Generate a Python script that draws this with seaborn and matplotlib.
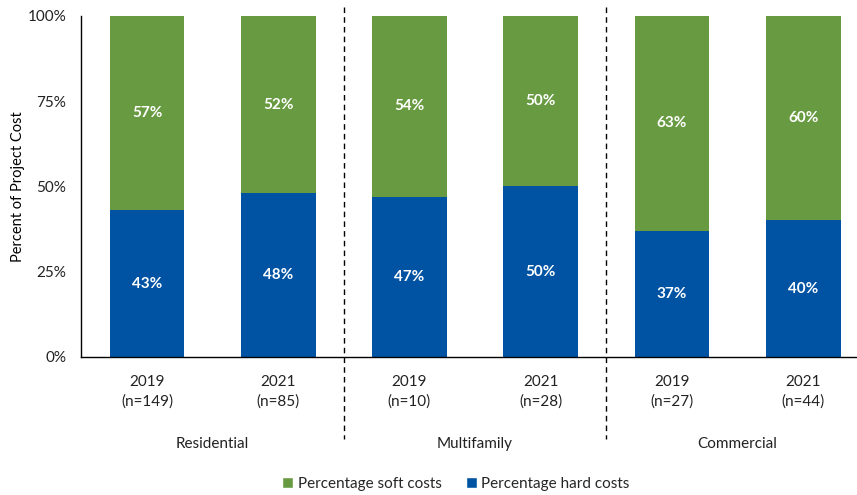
import matplotlib
matplotlib.use("Agg")
import matplotlib.pyplot as plt
from matplotlib.lines import Line2D
from matplotlib.patches import Patch
import seaborn as sns
import pandas as pd

# Data
sectors = ["Residential", "Multifamily", "Commercial"]
years = ["2019", "2021", "2019", "2021", "2019", "2021"]
sample_sizes = [149, 85, 10, 28, 27, 44]
hard_costs = [43, 48, 47, 50, 37, 40]
soft_costs = [57, 52, 54, 50, 63, 60]
y_ticks = [0, 25, 50, 75, 100]

GREEN = "#689B41"
BLUE = "#0053A3"

sns.set_theme(style="white")
plt.rcParams["font.family"] = ["Lato", "DejaVu Sans"]

labels = [f"{y}\n(n={n})" for y, n in zip(years, sample_sizes)]
df = pd.DataFrame({"group": labels, "hard": hard_costs, "soft": soft_costs})

fig, ax = plt.subplots(figsize=(8.57, 4.95), dpi=100)
fig.subplots_adjust(left=0.095, right=1.0, top=0.968, bottom=0.279)

sns.barplot(data=df, x="group", y="hard", color=BLUE, width=0.57,
            saturation=1, ax=ax, order=labels, linewidth=0)
sns.barplot(data=df, x="group", y="soft", color=GREEN, width=0.57,
            saturation=1, ax=ax, order=labels, linewidth=0,
            bottom=df["hard"].values)

# Value labels centred within each segment
for i, (h, s) in enumerate(zip(hard_costs, soft_costs)):
    top = min(h + s, 100)
    ax.text(i, h / 2, f"{h}%", ha="center", va="center", color="white",
            fontsize=11, fontweight="bold")
    ax.text(i, (h + top) / 2, f"{s}%", ha="center", va="center",
            color="white", fontsize=11, fontweight="bold")

ax.set_ylim(0, 100)
ax.set_xlim(-0.5, 5.41)
ax.set_yticks(y_ticks)
ax.set_yticklabels([f"{t}%" for t in y_ticks])
ax.set_xticks(range(len(labels)))
ax.set_xticklabels(labels, linespacing=1.45)
ax.set_xlabel("")
ax.set_ylabel("Percent of Project Cost", fontsize=10.5, color="black")
ax.yaxis.set_label_coords(-0.073, 0.5)
ax.tick_params(axis="both", length=0, labelsize=11, colors="#222222")
ax.tick_params(axis="x", pad=13)
ax.tick_params(axis="y", pad=11)

for side in ["top", "right"]:
    ax.spines[side].set_visible(False)
for side in ["left", "bottom"]:
    ax.spines[side].set_color("black")
    ax.spines[side].set_linewidth(1.0)

# Dashed dividers between sectors
trans = ax.get_xaxis_transform()
for xpos in [1.5, 3.5]:
    ax.add_line(Line2D([xpos, xpos], [1.025, -0.24], transform=trans,
                       color="black", linestyle=(0, (4, 3)), linewidth=1.0,
                       clip_on=False))

# Sector names beneath the year labels
for k, name in enumerate(sectors):
    ax.text(2 * k + 0.5, -0.255, name, transform=trans, ha="center",
            va="center", fontsize=11, color="#222222")

handles = [Patch(facecolor=GREEN, label="Percentage soft costs"),
           Patch(facecolor=BLUE, label="Percentage hard costs")]
fig.legend(handles=handles, loc="center", bbox_to_anchor=(0.532, 0.022),
           ncol=2, frameon=False, fontsize=11, handlelength=0.7,
           handleheight=0.7, columnspacing=1.6, handletextpad=0.3)

fig.savefig("out.png", dpi=100)
